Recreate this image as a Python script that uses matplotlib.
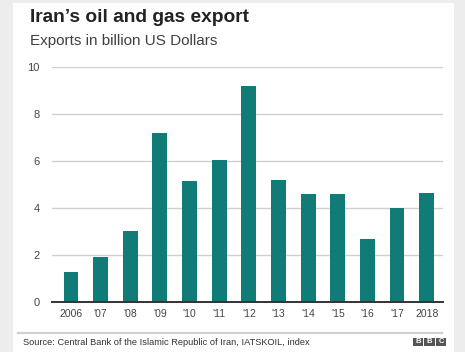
import matplotlib
matplotlib.use("Agg")
import matplotlib.pyplot as plt
from matplotlib.patches import Rectangle
from matplotlib.lines import Line2D

plt.rcParams['font.family'] = ['Liberation Sans', 'DejaVu Sans']

# data
years = ['2006', "'07", "'08", "'09", "'10", "'11", "'12", "'13", "'14", "'15", "'16", "'17", '2018']
exports = [1.28, 1.92, 3.0, 7.2, 5.15, 6.05, 9.21, 5.19, 4.6, 4.58, 2.68, 4.0, 4.63]
yticks = [0, 2, 4, 6, 8, 10]

bar_color = '#117c77'

fig = plt.figure(figsize=(4.65, 3.52), dpi=100)
fig.patch.set_facecolor('#ededed')

# white panel
fig.patches.append(Rectangle((13 / 465, 0), 441 / 465, 349 / 352,
                             transform=fig.transFigure, facecolor='white',
                             edgecolor='none', zorder=-5))

fig.text(30 / 465, 1 - 22.5 / 352, "Iran\u2019s oil and gas export",
         fontsize=13.8, fontweight='bold', color='#222222', va='baseline')
fig.text(30 / 465, 1 - 45 / 352, "Exports in billion US Dollars",
         fontsize=11, color='#404040', va='baseline')

ax = fig.add_axes([52 / 465, 1 - 301.7 / 352, 391 / 465, (301.7 - 67.3) / 352])
ax.set_zorder(2)
ax.set_facecolor('none')
x = list(range(len(years)))
ax.bar(x, exports, width=0.5, color=bar_color, zorder=3)
ax.set_xlim(-0.64, 12.55)
ax.set_ylim(0, 10)
ax.set_yticks(yticks)
ax.set_xticks(x)
ax.set_xticklabels(years)
ax.grid(axis='y', color='#d0d0d0', linewidth=1, zorder=0)
ax.grid(axis='x', visible=False)
for s in ['top', 'right', 'left']:
    ax.spines[s].set_visible(False)
ax.spines['bottom'].set_color('#333333')
ax.spines['bottom'].set_linewidth(1.4)
ax.spines['bottom'].set_zorder(4)
ax.tick_params(axis='y', length=0, pad=9, labelsize=8, labelcolor='#444444')
ax.tick_params(axis='x', length=0, pad=5, labelsize=7.5, labelcolor='#444444')

# footer
fig.lines.append(Line2D([18 / 465, 442 / 465], [1 - 333 / 352] * 2,
                        transform=fig.transFigure, color='#cfcfcf', linewidth=1.6))
fig.text(23 / 465, 1 - 342.5 / 352,
         "Source: Central Bank of the Islamic Republic of Iran, IATSKOIL, index",
         fontsize=6.7, color='#333333', va='center')

# BBC blocks
for i, letter in enumerate('BBC'):
    x0 = (412.5 + i * 11.7) / 465
    fig.patches.append(Rectangle((x0, 1 - 346 / 352), 10.5 / 465, 8.5 / 352,
                                 transform=fig.transFigure, facecolor='#555555',
                                 edgecolor='none'))
    fig.text(x0 + 5.25 / 465, 1 - 341.8 / 352, letter, fontsize=5.5,
             fontweight='bold', color='white', ha='center', va='center')

fig.savefig('out.png', dpi=100, facecolor=fig.get_facecolor())
